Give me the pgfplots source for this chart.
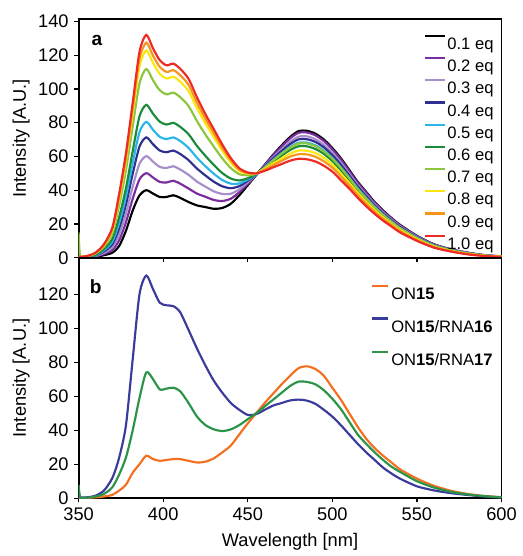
\documentclass[border=0pt]{standalone}
\usepackage{fontspec}
\setmainfont{Liberation Sans}
\usepackage{pgfplots}
\usepackage{pgfplotstable}
\pgfplotsset{compat=1.18}

\definecolor{cK}{HTML}{000000}
\definecolor{cP}{HTML}{7B2C9E}
\definecolor{cL}{HTML}{A68FCB}
\definecolor{cN}{HTML}{2E2F8F}
\definecolor{cC}{HTML}{2BB5E8}
\definecolor{cG}{HTML}{1B8A3A}
\definecolor{cLi}{HTML}{8CC63E}
\definecolor{cY}{HTML}{F9E70F}
\definecolor{cO}{HTML}{F7941D}
\definecolor{cR}{HTML}{EE2A24}
\definecolor{bO}{HTML}{F37021}
\definecolor{bB}{HTML}{3B3B9C}
\definecolor{bG}{HTML}{2B9448}

% panel a: titration, 0.1 ... 1.0 eq
\pgfplotstableread{
x   K    P    L    N    C    G    Li    Y     O     R
350 0.5  0.5  0.5  0.5  0.5  0.5  15    0.5   0.5   0.5
351 0.3  0.3  0.3  0.4  0.4  0.4  0.5   0.5   0.5   0.5
355 0.2  0.3  0.4  0.5  0.6  0.6  0.8   0.9   1.0   1.0
360 0.5  0.8  1.1  1.4  1.6  1.9  2.5   2.8   2.9   3.0
365 1.5  2.2  2.9  3.7  4.4  5.1  6.6   7.4   7.7   8.0
370 3.0  4.7  6.3  8.1  9.6  11.3 14.7  16.5  17.3  18.0
374 7.0  10.4 13.8 17.5 20.6 24.1 31.2  34.9  36.5  38.0
378 16.0 21.1 26.1 31.6 36.2 41.3 51.9  57.4  59.7  62.0
382 28.0 35.0 42.1 49.8 56.2 63.2 77.9  85.6  88.8  92.0
386 37.0 46.4 55.7 65.9 74.4 83.8 103.3 113.5 117.8 122.0
390 40.0 50.1 60.2 71.3 80.5 90.6 111.8 122.8 127.4 132.0
394 38.0 47.5 56.9 67.2 75.8 85.3 105.1 115.4 119.7 124.0
398 36.0 44.9 53.8 63.5 71.6 80.6 99.2  108.9 113.0 117.0
402 36.0 44.6 53.2 62.5 70.3 78.9 96.8  106.2 110.1 114.0
406 37.0 45.6 54.2 63.5 71.3 79.9 97.8  107.2 111.1 115.0
410 35.5 43.9 52.3 61.5 69.2 77.6 95.2  104.4 108.2 112.0
415 33.0 41.0 49.1 57.8 65.1 73.2 89.9  98.7  102.4 106.0
420 31.0 38.0 45.1 52.8 59.2 66.2 80.9  88.6  91.8  95.0
425 30.0 36.1 42.1 48.7 54.2 60.3 72.9  79.5  82.3  85.0
430 29.0 34.2 39.3 45.0 49.7 54.9 65.7  71.3  73.7  76.0
435 29.5 33.6 37.8 42.3 46.0 50.1 58.8  63.3  65.1  67.0
440 32.0 35.0 37.9 41.2 43.9 46.9 53.1  56.3  57.7  59.0
445 37.0 38.8 40.5 42.4 44.0 45.8 49.5  51.4  52.2  53.0
450 43.0 43.8 44.7 45.6 46.3 47.1 48.9  49.8  50.1  50.5
455 49.0 49.1 49.2 49.3 49.4 49.6 49.8  49.9  50.0  50.0
460 55.0 54.8 54.3 54.0 53.5 53.1 53.4  52.6  52.1  51.5
465 61.0 60.6 59.5 58.8 57.9 56.9 57.6  55.8  54.8  53.5
470 66.5 65.8 64.3 63.2 61.9 60.5 61.6  58.8  57.4  55.5
475 71.5 70.7 68.7 67.3 65.6 63.8 65.2  61.7  59.9  57.5
480 75.0 74.0 71.7 70.1 68.1 66.0 67.6  63.5  61.3  58.6
485 75.2 74.2 71.9 70.2 68.2 66.0 67.7  63.4  61.2  58.3
490 73.5 72.5 70.2 68.6 66.6 64.4 66.1  62.0  59.8  57.0
495 70.0 69.1 66.9 65.4 63.5 61.5 63.0  59.2  57.1  54.5
500 65.0 64.2 62.2 60.8 59.1 57.3 58.7  55.2  53.4  51.0
505 59.0 58.2 56.4 55.1 53.5 51.9 53.2  49.9  48.2  46.0
510 52.0 51.3 49.8 48.7 47.4 46.0 47.1  44.3  42.9  41.0
515 45.0 44.4 43.1 42.2 41.0 39.8 40.7  38.4  37.1  35.5
520 39.0 38.5 37.3 36.5 35.4 34.3 35.2  33.1  31.9  30.5
525 33.0 32.6 31.6 30.9 30.1 29.2 29.9  28.1  27.2  26.0
530 28.0 27.6 26.8 26.2 25.5 24.7 25.3  23.8  23.0  22.0
535 23.5 23.2 22.5 22.0 21.4 20.8 21.3  20.0  19.4  18.5
540 19.5 19.2 18.6 18.2 17.6 17.0 17.5  16.4  15.8  15.0
550 13.0 12.8 12.4 12.1 11.7 11.4 11.7  10.9  10.5  10.0
560 8.0  7.9  7.6  7.4  7.2  6.9  7.1   6.6   6.3   6.0
570 5.0  4.9  4.7  4.6  4.5  4.3  4.4   4.1   3.9   3.7
580 3.0  2.9  2.8  2.7  2.6  2.5  2.6   2.3   2.2   2.0
590 1.5  1.5  1.4  1.4  1.3  1.2  1.3   1.2   1.1   1.0
600 0.8  0.8  0.7  0.7  0.7  0.6  0.7   0.6   0.6   0.5
}\titration

% panel b: ON15 alone and with RNA16 / RNA17
\pgfplotstableread{
x   O    B     G
350 0.2  0.5   8.0
351 0.2  0.5   0.5
355 0.2  0.5   0.3
360 0.5  1.5   1.0
365 1.0  4.5   2.5
370 2.0  12.0  6.5
374 4.5  24.0  14.0
378 8.0  43.0  24.0
382 15.0 82.0  40.0
386 20.0 120.0 59.0
390 25.0 131.0 74.0
394 23.0 123.0 70.0
398 22.0 115.0 64.0
402 22.5 113.5 64.5
406 23.0 113.0 65.0
410 23.0 109.5 63.0
415 22.0 99.0  56.0
420 21.0 88.0  48.0
425 21.5 78.0  43.0
430 23.5 69.0  40.5
435 27.0 62.0  39.5
440 31.0 56.0  40.5
445 37.5 52.0  43.0
450 44.0 49.0  46.5
455 50.0 49.5  50.0
460 56.0 52.0  54.0
465 61.5 54.5  58.0
470 67.0 56.0  62.0
475 72.0 57.5  66.0
480 76.5 58.0  68.6
485 77.6 57.4  68.4
490 76.0 55.5  67.0
495 72.0 52.0  63.5
500 65.0 48.0  58.5
505 58.0 43.0  52.5
510 50.0 37.5  45.0
515 42.0 32.0  37.5
520 35.0 27.0  32.0
525 29.5 22.5  27.0
530 25.0 18.0  22.5
535 21.0 14.5  18.5
540 17.0 11.5  15.5
550 11.5 7.0   10.0
560 7.3  4.6   6.3
570 4.4  3.0   3.8
580 2.5  1.9   2.2
590 1.3  1.0   1.2
600 0.6  0.4   0.5
}\rnadata

\pgfplotsset{
  panel/.style={
    scale only axis, width=255pt,
    xmin=350, xmax=600, xtick={350,400,...,600},
    ymin=0,
    tick align=outside, tick pos=left,
    major tick length=2.5pt,
    major tick style={black, line width=0.8pt},
    axis line style={line width=1.1pt},
    tick label style={font=\fontsize{11}{12}\selectfont},
    label style={font=\fontsize{11}{12}\selectfont},
    /pgf/number format/assume math mode=true,
    ylabel={Intensity [A.U.]},
    ylabel style={at={(axis description cs:-0.136,0.5)}, anchor=center},
    every axis plot/.append style={line width=1.3pt, no markers, smooth, tension=0.45},
  },
}

\begin{document}
\begin{tikzpicture}
\begin{axis}[panel, name=top, height=144pt,
  ymax=141.5, ytick={0,20,...,140}, xticklabels={},
  legend style={at={(0.985,0.935)}, anchor=north east, draw=none, fill=none,
    font=\fontsize{10}{11.7}\selectfont, inner sep=0pt, row sep=2.2pt,
    nodes={inner sep=0.8pt}, cells={anchor=west}},
  legend image code/.code={\draw[#1, line width=1.3pt] (0pt,5.5pt) -- (12pt,5.5pt);},
]
\addplot[color=cK]  table[x=x, y=K]  {\titration}; \addlegendentry{0.1 eq}
\addplot[color=cP]  table[x=x, y=P]  {\titration}; \addlegendentry{0.2 eq}
\addplot[color=cL]  table[x=x, y=L]  {\titration}; \addlegendentry{0.3 eq}
\addplot[color=cN]  table[x=x, y=N]  {\titration}; \addlegendentry{0.4 eq}
\addplot[color=cC]  table[x=x, y=C]  {\titration}; \addlegendentry{0.5 eq}
\addplot[color=cG]  table[x=x, y=G]  {\titration}; \addlegendentry{0.6 eq}
\addplot[color=cLi] table[x=x, y=Li] {\titration}; \addlegendentry{0.7 eq}
\addplot[color=cY]  table[x=x, y=Y]  {\titration}; \addlegendentry{0.8 eq}
\addplot[color=cO]  table[x=x, y=O]  {\titration}; \addlegendentry{0.9 eq}
\addplot[color=cR]  table[x=x, y=R]  {\titration}; \addlegendentry{1.0 eq}
\node[anchor=north west, inner sep=0pt, font=\bfseries\fontsize{11.5}{12}\selectfont]
  at (rel axis cs:0.03,0.933) {a};
\end{axis}

\begin{axis}[panel, name=bot, height=145pt,
  at={(top.south west)}, anchor=north west,
  ymax=141.5, ytick={0,20,...,120},
  xlabel={Wavelength [nm]},
  xlabel style={at={(axis description cs:0.5,0)}, anchor=center, yshift=-26.4pt},
  legend style={at={(0.69,0.89)}, anchor=north west, draw=none, fill=none,
    font=\fontsize{10}{11.7}\selectfont, inner sep=0pt, row sep=8pt,
    nodes={inner sep=1.5pt}, cells={anchor=west}},
  legend image code/.code={\draw[#1, line width=1.3pt] (0pt,5.5pt) -- (9.6pt,5.5pt);},
]
\addplot[color=bO] table[x=x, y=O] {\rnadata}; \addlegendentry{ON\textbf{15}}
\addplot[color=bB] table[x=x, y=B] {\rnadata}; \addlegendentry{ON\textbf{15}/RNA\textbf{16}}
\addplot[color=bG] table[x=x, y=G] {\rnadata}; \addlegendentry{ON\textbf{15}/RNA\textbf{17}}
\node[anchor=north west, inner sep=0pt, font=\bfseries\fontsize{11.5}{12}\selectfont]
  at (rel axis cs:0.026,0.909) {b};
\end{axis}

\path ([xshift=-47.4pt, yshift=11.4pt]top.north west) rectangle ([xshift=9.6pt, yshift=-33pt]bot.south east);
\end{tikzpicture}
\end{document}
